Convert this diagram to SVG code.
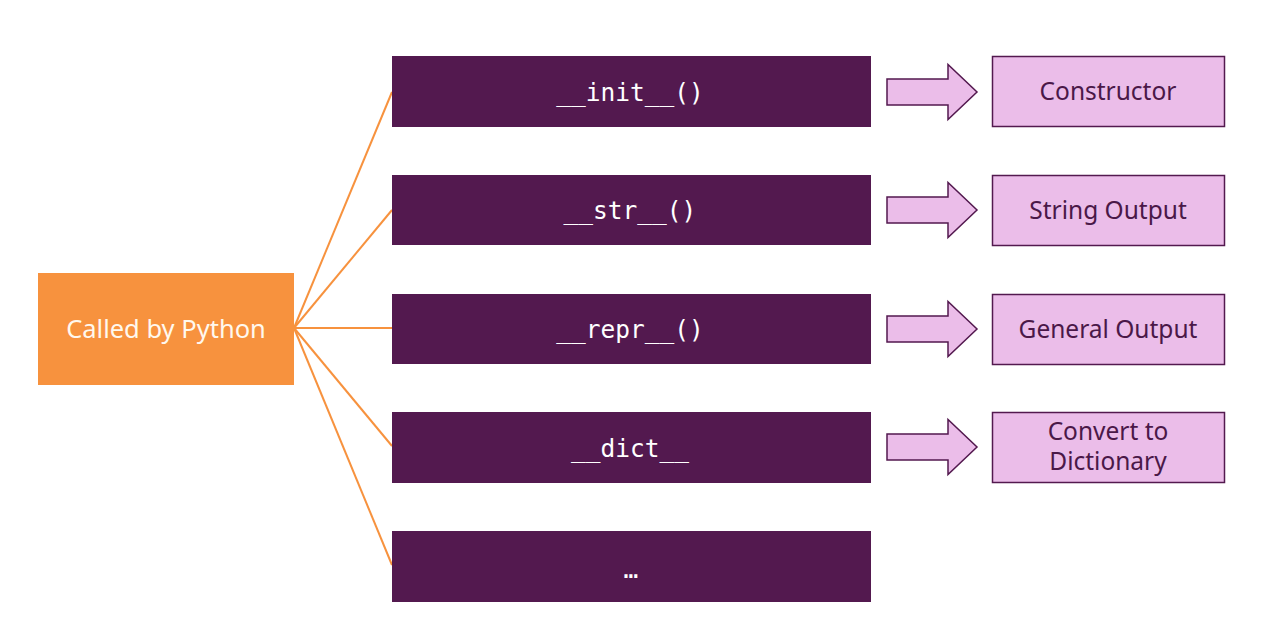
<svg xmlns="http://www.w3.org/2000/svg" width="1281" height="644" viewBox="0 0 1281 644">
<style>
.m{fill:#53194f}
.mt{fill:#ffffff;font-family:"DejaVu Sans Mono","Liberation Mono",monospace;font-size:24.5px;text-anchor:middle}
.p{fill:#ebbde9;stroke:#53194f;stroke-width:1.5}
.pt{fill:#4a1848;font-family:"Noto Sans","Open Sans",sans-serif;font-size:24.5px;text-anchor:middle}
.c{stroke:#f7923e;stroke-width:2;fill:none}
</style>
<defs>
<path id="arr" d="M887,-13 H948 V-27.5 L977,0 L948,27.5 V13 H887 Z"/>
</defs>
<rect width="1281" height="644" fill="#ffffff"/>
<g id="connectors">
<line class="c" x1="294" y1="328" x2="392" y2="92"/>
<line class="c" x1="294" y1="328" x2="392" y2="210"/>
<line class="c" x1="294" y1="328" x2="392" y2="328"/>
<line class="c" x1="294" y1="328" x2="392" y2="446"/>
<line class="c" x1="294" y1="328" x2="392" y2="565"/>
</g>
<g id="called">
<rect x="38" y="273" width="256" height="112" fill="#f7923e"/>
<text x="166" y="338" fill="#fff8ee" font-family="Noto Sans,Open Sans,sans-serif" font-size="25.5" text-anchor="middle">Called by Python</text>
</g>
<g id="init">
<rect class="m" x="392" y="56" width="479" height="71"/>
<text class="mt" x="630" y="101">__init__()</text>
</g>
<g id="str">
<rect class="m" x="392" y="175" width="479" height="70"/>
<text class="mt" x="630" y="219">__str__()</text>
</g>
<g id="repr">
<rect class="m" x="392" y="294" width="479" height="70"/>
<text class="mt" x="630" y="338">__repr__()</text>
</g>
<g id="dict">
<rect class="m" x="392" y="412" width="479" height="71"/>
<text class="mt" x="630" y="457">__dict__</text>
</g>
<g id="more">
<rect class="m" x="392" y="531" width="479" height="71"/>
<text class="mt" x="631" y="578" font-size="17">…</text>
</g>
<g id="arrows" class="p">
<use href="#arr" transform="translate(0,92)"/>
<use href="#arr" transform="translate(0,210)"/>
<use href="#arr" transform="translate(0,329)"/>
<use href="#arr" transform="translate(0,447)"/>
</g>
<g id="constructor">
<rect class="p" x="992.5" y="56.5" width="232" height="70"/>
<text class="pt" x="1108" y="100">Constructor</text>
</g>
<g id="string-output">
<rect class="p" x="992.5" y="175.5" width="232" height="70"/>
<text class="pt" x="1108" y="219">String Output</text>
</g>
<g id="general-output">
<rect class="p" x="992.5" y="294.5" width="232" height="70"/>
<text class="pt" x="1108" y="338">General Output</text>
</g>
<g id="convert">
<rect class="p" x="992.5" y="412.5" width="232" height="70"/>
<text class="pt" x="1108" y="440">Convert to</text>
<text class="pt" x="1108" y="470">Dictionary</text>
</g>
</svg>
